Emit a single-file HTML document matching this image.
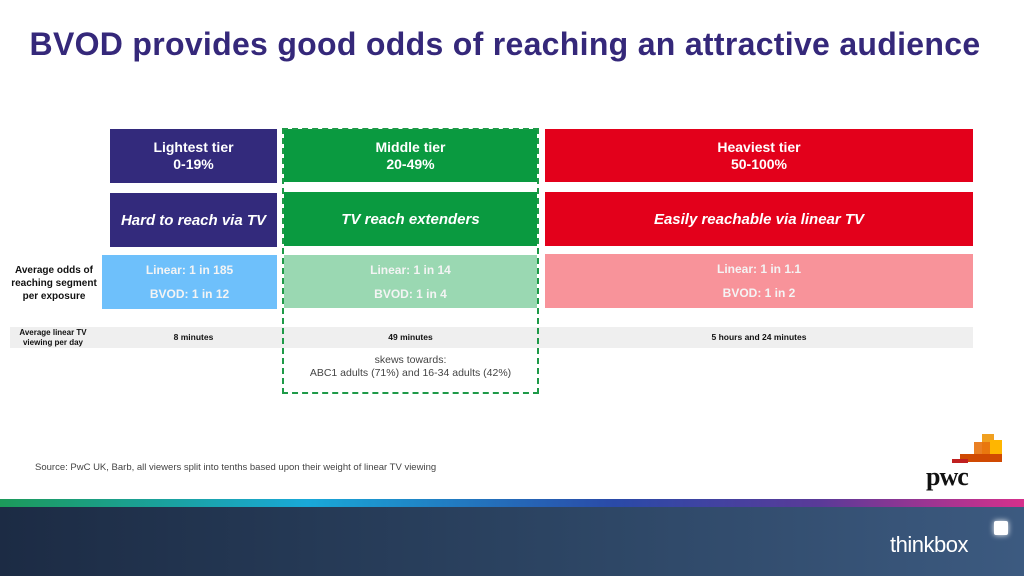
<!DOCTYPE html>
<html><head><meta charset="utf-8"><style>
*{margin:0;padding:0;box-sizing:border-box}
body{width:1024px;height:576px;overflow:hidden;background:#fff;font-family:"Liberation Sans",Arial,sans-serif;position:relative}
.a{position:absolute}
.box{position:absolute;display:flex;flex-direction:column;align-items:center;justify-content:center;color:#fff;font-weight:bold;text-align:center}
.h{font-size:14px;line-height:17px}
.i{font-size:15px;font-style:italic}
.o{font-size:12px;line-height:24px;color:#f4f4f4}
.lbl{position:absolute;font-size:9.5px;font-weight:bold;text-align:center;color:#111;line-height:11px}
.min{position:absolute;top:327px;height:21px;line-height:21px;font-size:8.5px;font-weight:bold;text-align:center;color:#111}
</style></head><body>
<div class="a" style="left:0;width:1010px;top:26px;text-align:center;font-size:32px;font-weight:bold;color:#35287a;letter-spacing:0.3px">BVOD provides good odds of reaching an attractive audience</div>

<div class="box h" style="left:110px;top:129px;width:167px;height:54px;background:#332a7c">Lightest tier<br>0-19%</div>
<div class="box h" style="left:284px;top:129px;width:253px;height:53px;background:#0a9a40">Middle tier<br>20-49%</div>
<div class="box h" style="left:545px;top:129px;width:428px;height:53px;background:#e3001b">Heaviest tier<br>50-100%</div>

<div class="box i" style="left:110px;top:193px;width:167px;height:54px;background:#332a7c">Hard to reach via TV</div>
<div class="box i" style="left:284px;top:192px;width:253px;height:54px;background:#0a9a40">TV reach extenders</div>
<div class="box i" style="left:545px;top:192px;width:428px;height:54px;background:#e3001b">Easily reachable via linear TV</div>

<div class="lbl" style="left:5px;top:264px;width:98px;font-size:10px;line-height:13px">Average odds of reaching segment per exposure</div>
<div class="box o" style="left:102px;top:255px;width:175px;height:54px;background:#6ec0fb"><div>Linear: 1 in 185</div><div>BVOD: 1 in 12</div></div>
<div class="box o" style="left:284px;top:255px;width:253px;height:53px;background:#9ad8b2"><div>Linear: 1 in 14</div><div>BVOD: 1 in 4</div></div>
<div class="box o" style="left:545px;top:254px;width:428px;height:54px;background:#f8939a"><div>Linear: 1 in 1.1</div><div>BVOD: 1 in 2</div></div>

<div class="a" style="left:10px;top:327px;width:963px;height:21px;background:#efefef"></div>
<div class="lbl" style="left:8px;top:328px;width:90px;font-size:8px;line-height:10px">Average linear TV viewing per day</div>
<div class="min" style="left:110px;width:167px">8 minutes</div>
<div class="min" style="left:284px;width:253px">49 minutes</div>
<div class="min" style="left:545px;width:428px">5 hours and 24 minutes</div>

<div class="a" style="left:284px;top:354px;width:253px;text-align:center;font-size:10.5px;line-height:13px;color:#444">skews towards:<br>ABC1 adults (71%) and 16-34 adults (42%)</div>
<div class="a" style="left:282px;top:128px;width:257px;height:266px;border:2px dashed #1e9a48"></div>

<div class="a" style="left:35px;top:462px;font-size:9.5px;color:#444">Source: PwC UK, Barb, all viewers split into tenths based upon their weight of linear TV viewing</div>

<div class="a" style="left:920px;top:432px;width:90px;height:62px">
<div class="a" style="left:62px;top:2px;width:12px;height:20px;background:#f0a020"></div>
<div class="a" style="left:54px;top:10px;width:28px;height:20px;background:#e8720c;opacity:.9"></div>
<div class="a" style="left:70px;top:8px;width:12px;height:14px;background:#ffb600"></div>
<div class="a" style="left:40px;top:22px;width:42px;height:8px;background:#d04a02"></div>
<div class="a" style="left:32px;top:27px;width:16px;height:4px;background:#c02020"></div>
<div class="a" style="left:6px;top:30px;font-family:'Liberation Serif',serif;font-weight:bold;font-size:26px;color:#111;letter-spacing:-1px">pwc</div>
</div>

<div class="a" style="left:0;top:499px;width:1024px;height:8px;background:linear-gradient(90deg,#1c9a5a,#19a8d8 30%,#2a4aa8 60%,#5a3a98 80%,#d6308c)"></div>
<div class="a" style="left:0;top:507px;width:1024px;height:69px;background:linear-gradient(90deg,#1c2b44,#2e4766 60%,#3c5a80)"></div>
<div class="a" style="left:890px;top:532px;font-size:22px;color:#fff;letter-spacing:-0.5px">thinkbox</div>
<div class="a" style="left:994px;top:521px;width:14px;height:14px;background:#fff;border-radius:2px;box-shadow:0 0 6px #fff"></div>
</body></html>
